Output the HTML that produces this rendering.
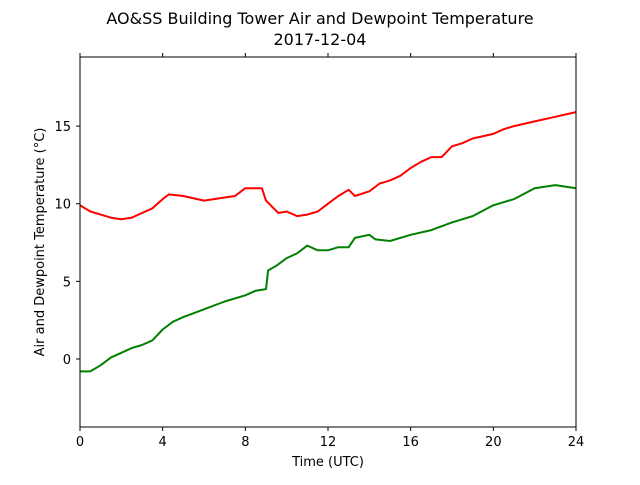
<!DOCTYPE html>
<html><head><meta charset="utf-8"><style>
body{margin:0;background:#fff;}
svg text{font-family:"DejaVu Sans","Liberation Sans",sans-serif;}
</style></head><body>
<svg id="chart" width="640" height="480" viewBox="0 0 640 480">
<rect width="640" height="480" fill="#fff"/>
<text x="320" y="24" text-anchor="middle" font-size="16">AO&amp;SS Building Tower Air and Dewpoint Temperature</text>
<text x="320" y="45" text-anchor="middle" font-size="16">2017-12-04</text>
<g id="axes"></g>
<g id="series"></g>
<rect x="80" y="57" width="496" height="370" fill="none" stroke="#000" stroke-width="1"/>
<text x="328" y="466" text-anchor="middle" font-size="13">Time (UTC)</text>
<text transform="translate(44,242) rotate(-90)" text-anchor="middle" font-size="13">Air and Dewpoint Temperature (°C)</text>
</svg>
<script>
const xTicks=[0,4,8,12,16,20,24];
const yTicks=[0,5,10,15];
const airHours=[0,0.5,1,1.5,2,2.5,3,3.5,4,4.3,5,6,7,7.5,8,8.8,9,9.3,9.6,10,10.5,11,11.5,12,12.5,13,13.3,14,14.5,15,15.5,16,16.5,17,17.5,18,18.5,19,20,20.5,21,22,23,24];
const airTemp=[9.9,9.5,9.3,9.1,9.0,9.1,9.4,9.7,10.3,10.6,10.5,10.2,10.4,10.5,11.0,11.0,10.2,9.8,9.4,9.5,9.2,9.3,9.5,10.0,10.5,10.9,10.5,10.8,11.3,11.5,11.8,12.3,12.7,13.0,13.0,13.7,13.9,14.2,14.5,14.8,15.0,15.3,15.6,15.9];
const dewHours=[0,0.5,1,1.5,2,2.5,3,3.5,4,4.5,5,6,7,8,8.5,9,9.1,9.5,10,10.5,11,11.5,12,12.5,13,13.3,14,14.3,15,16,17,18,19,20,21,22,23,24];
const dewTemp=[-0.8,-0.8,-0.4,0.1,0.4,0.7,0.9,1.2,1.9,2.4,2.7,3.2,3.7,4.1,4.4,4.5,5.7,6.0,6.5,6.8,7.3,7.0,7.0,7.2,7.2,7.8,8.0,7.7,7.6,8.0,8.3,8.8,9.2,9.9,10.3,11.0,11.2,11.0];
const X0=80,X1=576,XMIN=0,XMAX=24;
const Y0=427,Y1=57,YMIN=-4.38,YMAX=19.45;
const sx=v=>X0+(v-XMIN)/(XMAX-XMIN)*(X1-X0);
const sy=v=>Y0-(v-YMIN)/(YMAX-YMIN)*(Y0-Y1);
const NS="http://www.w3.org/2000/svg";
const axes=document.getElementById('axes'),series=document.getElementById('series');
function mk(t,a,p){const e=document.createElementNS(NS,t);for(const k in a)e.setAttribute(k,a[k]);p.appendChild(e);return e;}
xTicks.forEach(v=>{
 const x=sx(v);
 const t=mk('line',{x1:x,x2:x,y1:427,y2:431,stroke:'#000'},axes);
 
 
 const t2=mk('line',{x1:x,x2:x,y1:57,y2:53,stroke:'#000'},axes);
 
 
 const l=mk('text',{x:x,y:446,'text-anchor':'middle','font-size':13},axes);
 l.textContent=v;
 
 
});
yTicks.forEach(v=>{
 const y=sy(v);
 const t=mk('line',{x1:76,x2:80,y1:y,y2:y,stroke:'#000'},axes);
 
 
 const l=mk('text',{x:71,y:y+5,'text-anchor':'end','font-size':13},axes);
 l.textContent=v;
 
 
});
function line(xs,ys,color,name){
 const d=xs.map((h,i)=>(i?'L':'M')+sx(h).toFixed(1)+','+sy(ys[i]).toFixed(1)).join('');
 const p=mk('path',{d:d,fill:'none',stroke:color,'stroke-width':2,'stroke-linejoin':'round'},series);
 
 
}
line(airHours,airTemp,'#ff0000','air-temperature-line');
line(dewHours,dewTemp,'#008000','dewpoint-temperature-line');
</script>
</body></html>
